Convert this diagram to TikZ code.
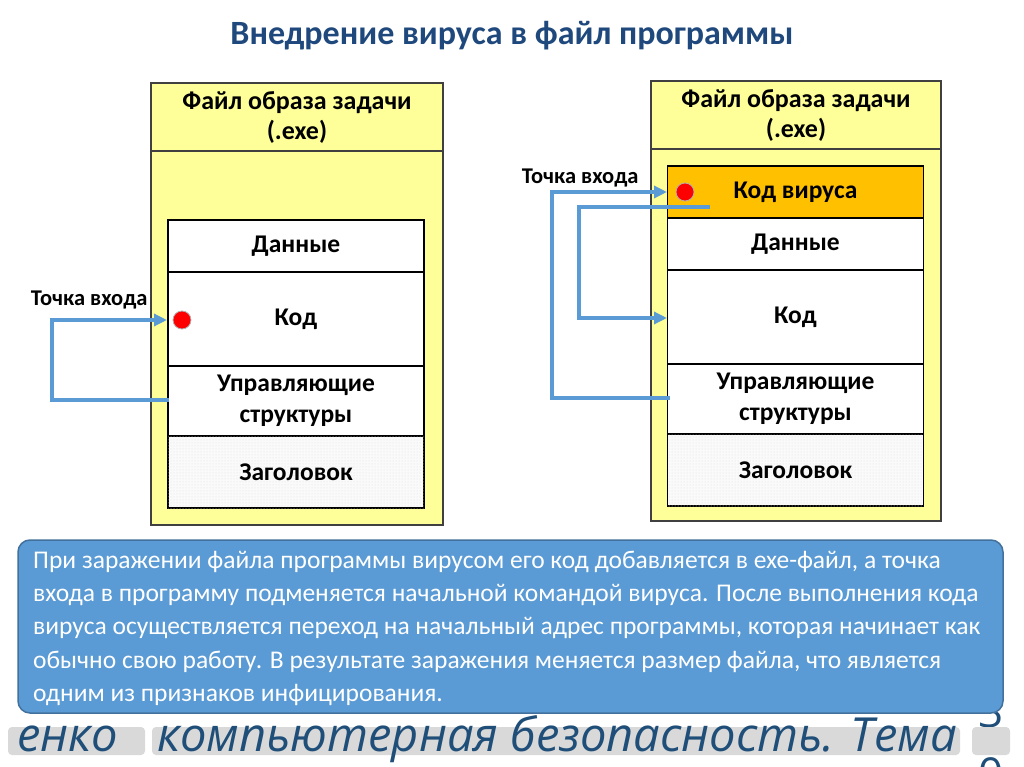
\documentclass[tikz,border=0pt]{standalone}
\usepackage{fontspec}
\setmainfont{Carlito}
\newfontfamily\footfont{Open Sans}
\usetikzlibrary{positioning,arrows.meta,patterns,calc}

\definecolor{titleblue}{HTML}{1F497D}
\definecolor{fileyellow}{HTML}{FFFF99}
\definecolor{virusorange}{HTML}{FFC000}
\definecolor{linkblue}{HTML}{5B9BD5}
\definecolor{notefill}{HTML}{5B9BD5}
\definecolor{noteline}{HTML}{41719C}
\definecolor{footgray}{HTML}{D9D9D9}
\definecolor{footblue}{HTML}{1F4E79}

\tikzset{
  filebox/.style={draw=black!75, line width=1.5pt, fill=fileyellow},
  segbox/.style={draw=black, line width=1.5pt, fill=white, minimum width=256pt,
    minimum height=#1, inner sep=0pt, align=center,
    font=\bfseries\fontsize{25.5}{31}\selectfont},
  headtext/.style={align=center, font=\bfseries\fontsize{26}{30}\selectfont},
  entrylabel/.style={font=\bfseries\fontsize{22.5}{24}\selectfont, anchor=east},
  entrydot/.style={circle, fill=red, draw=gray!60, line width=0.8pt, minimum size=18pt, inner sep=0pt},
  flow/.style={draw=linkblue, line width=4pt, -{Triangle[length=13pt,width=12pt]}},
  footbox/.style={fill=footgray, rounded corners=4pt},
  foottext/.style={text=footblue, font=\footfont\itshape\fontsize{47}{47}\selectfont}
}

\begin{document}
\begin{tikzpicture}[x=1pt, y=-1pt]
  \useasboundingbox (0,0) rectangle (1024,767);
  \clip (0,0) rectangle (1024,767);
  \fill[white] (0,0) rectangle (1024,767);

  % Заголовок слайда
  \node[text=titleblue, font=\bfseries\fontsize{34}{36}\selectfont] (title) at (512,36) {Внедрение вируса в файл программы};

  % Исходный файл (слева)
  \draw[filebox] (151,83) rectangle (443,525);
  \draw[black!75, line width=1.5pt] (151,151) -- (443,151);
  \node[headtext] (lhead) at (297,118) {Файл образа задачи\\(.exe)};
  \node[segbox=52pt] (ldata) at (296,246) {Данные};
  \node[segbox=94pt] (lcode) at (296,319) {Код};
  \node[segbox=70pt] (lctl) at (296,401) {Управляющие\\структуры};
  \node[segbox=72pt, fill=gray!4, postaction={pattern=dots, pattern color=gray!25}] (lhdr) at (296,472) {Заголовок};
  \node[entrydot] (ldot) at (182,320) {};
  \node[entrylabel] (llabel) at (151,300) {Точка входа};

  % Заражённый файл (справа)
  \draw[filebox] (651,81) rectangle (941,521);
  \draw[black!75, line width=1.5pt] (651,149) -- (941,149);
  \node[headtext] (rhead) at (796,116) {Файл образа задачи\\(.exe)};
  \node[segbox=52pt, fill=virusorange] (rvirus) at (795.5,192) {Код вируса};
  \node[segbox=52pt] (rdata) at (795.5,244) {Данные};
  \node[segbox=94pt] (rcode) at (795.5,317) {Код};
  \node[segbox=70pt] (rctl) at (795.5,399) {Управляющие\\структуры};
  \node[segbox=72pt, fill=gray!4, postaction={pattern=dots, pattern color=gray!25}] (rhdr) at (795.5,470) {Заголовок};
  \node[entrylabel] (rlabel) at (642,178) {Точка входа};

  % Переходы
  \coordinate (lret) at (169,400);
  \coordinate (lbend) at (52,320);
  \coordinate (lentry) at (167,320);
  \draw[flow] (lret) -| (lbend) -- (lentry);

  \coordinate (rret) at (670,398);
  \coordinate (rbendA) at (552,192);
  \coordinate (rentry) at (667,192);
  \draw[flow] (rret) -| (rbendA) -- (rentry);

  \coordinate (rjump) at (710,207);
  \coordinate (rbendB) at (579,318);
  \coordinate (rstart) at (667,318);
  \draw[flow] (rjump) -| (rbendB) -- (rstart);
  \node[entrydot] (rdot) at (685,192) {};

  % Нижний колонтитул
  \node[text=footblue, font=\footfont\fontsize{44}{44}\selectfont] (pgtop) at (991,712) {3};
  \node[text=footblue, font=\footfont\fontsize{44}{44}\selectfont] (pgbot) at (991,774) {0};
  \fill[footbox] (8,727) rectangle (145,755);
  \fill[footbox] (152,727) rectangle (960,755);
  \fill[footbox] (972,727) rectangle (1010,755);
  \node[foottext, anchor=west] (fleft) at (14,739) {енко};
  \node[foottext, anchor=west] (fmain) at (154,739) {компьютерная безопасность. Тема};

  % Пояснение
  \draw[fill=notefill, draw=noteline, line width=1.5pt, rounded corners=12pt] (18,540) rectangle (1003,713);
  \node[anchor=north west, align=left, text=white, inner sep=0pt,
    font=\fontsize{25.5}{33.2}\selectfont] (note) at (33,551)
    {При заражении файла программы вирусом его код добавляется в exe-файл, а точка\\
     входа в программу подменяется начальной командой вируса. После выполнения кода\\
     вируса осуществляется переход на начальный адрес программы, которая начинает как\\
     обычно свою работу. В результате заражения меняется размер файла, что является\\
     одним из признаков инфицирования.};
\end{tikzpicture}
\end{document}
